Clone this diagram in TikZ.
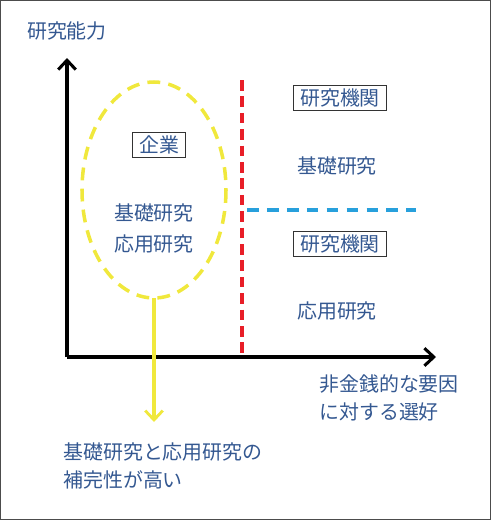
\documentclass[tikz,border=0pt]{standalone}
\usepackage{fontspec}
\newfontfamily\cjk{Noto Sans CJK JP}
\usetikzlibrary{arrows.meta}
\definecolor{labelblue}{RGB}{52,88,145}
\definecolor{ovalyellow}{RGB}{240,232,60}
\definecolor{splitred}{RGB}{232,30,40}
\definecolor{splitblue}{RGB}{40,160,220}
\tikzset{
  axis/.style={line width=3.4pt, draw=black, -{Straight Barb[length=8pt,width=15pt,line width=2.6pt]}},
  oval/.style={line width=3pt, draw=ovalyellow, dash pattern=on 11pt off 7pt},
  pointer/.style={line width=2.6pt, draw=ovalyellow, -{Straight Barb[length=8pt,width=15pt,line width=2.4pt]}},
  redsplit/.style={line width=3pt, draw=splitred, dash pattern=on 9pt off 5pt},
  bluesplit/.style={line width=3pt, draw=splitblue, dash pattern=on 10pt off 7pt},
  label/.style={font=\cjk\fontsize{17}{20}\selectfont, text=labelblue, inner sep=1pt},
  tagbox/.style={label, draw=black!80, line width=0.9pt, inner xsep=6pt, inner ysep=3pt},
}

\begin{document}
\begin{tikzpicture}[x=0.03cm, y=-0.03cm]
\useasboundingbox (0,0) rectangle (491,520);
\draw[black!70, line width=1.5pt] (0.5,0.5) rectangle (490.5,519.5);
% axes
\coordinate (origin) at (67,357);
\coordinate (ytip) at (67,58);
\coordinate (xtip) at (436,357);
\draw[axis] (origin) -- (ytip);
\draw[axis] (origin) -- (xtip);
\node[label] (ylabel) at (67,31) {研究能力};
\node[label, anchor=north west, align=left] (xlabel) at (318,373) {非金銭的な要因\\[4pt]に対する選好};
% firms
\draw[oval] (154,190) ellipse (72 and 108);
\coordinate (ovalbottom) at (154,298);
\coordinate (pointtip) at (154,422);
\draw[pointer] (ovalbottom) -- (pointtip);
\node[tagbox] (firm) at (159,145) {企業};
\node[label] (firmbasic) at (154,213) {基礎研究};
\node[label] (firmapplied) at (154,244) {応用研究};
\node[label, anchor=north west, align=left] (note) at (62,441) {基礎研究と応用研究の\\[4pt]補完性が高い};
% institutes
\coordinate (redtop) at (242,80);
\coordinate (redbottom) at (242,357);
\draw[redsplit] (redtop) -- (redbottom);
\coordinate (blueleft) at (247,210);
\coordinate (blueright) at (416,210);
\draw[bluesplit] (blueleft) -- (blueright);
\node[tagbox] (insttop) at (340,98) {研究機関};
\node[label] (instbasic) at (337,166) {基礎研究};
\node[tagbox] (instbottom) at (340,244) {研究機関};
\node[label] (instapplied) at (337,311) {応用研究};
\end{tikzpicture}
\end{document}
